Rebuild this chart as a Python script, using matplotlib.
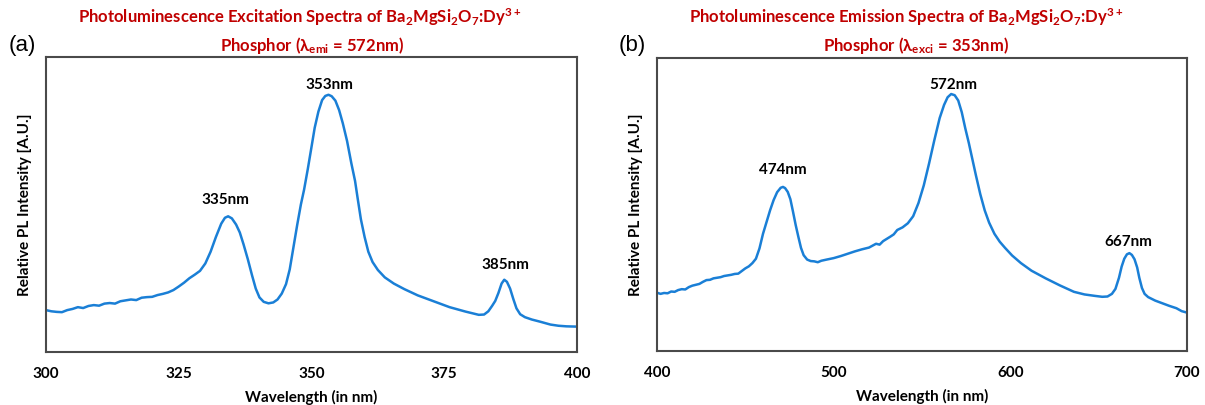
import numpy as np
import matplotlib.pyplot as plt

# (a) excitation spectrum (arbitrary units, 0-100 = axes height)
exc_nm = [300, 301, 302, 303, 304, 305, 306, 307, 308, 309, 310, 311, 312, 313, 314,
          315, 316, 317, 318, 319, 320, 321, 322, 323, 324, 325, 326, 327, 328, 329,
          330, 331, 332, 333, 333.7, 334.3, 335, 335.8, 336.5, 337.2, 338, 338.8, 339.5,
          340.2, 341, 341.9, 342.8, 343.6, 344.4, 345.2, 345.9, 346.6, 347.3, 348, 348.6,
          349.3, 350, 350.6, 351.3, 352, 352.6, 353.2, 353.8, 354.5, 355.2, 355.9, 356.7,
          357.5, 358.2, 358.7, 359.3, 360, 360.7, 361.5, 362.5, 363.8, 365.5, 367.5, 370,
          373, 376, 379, 381.5, 382.5, 383.3, 384, 384.6, 385.2, 385.8, 386.3, 386.8,
          387.4, 388, 388.6, 389.3, 390.2, 391.5, 393, 395, 396.5, 398, 400]
exc_int = [14.2, 13.8, 13.6, 13.5, 14.2, 14.6, 15.2, 14.9, 15.6, 15.9, 15.7, 16.4, 16.6, 16.4, 17.2,
           17.5, 17.8, 17.6, 18.4, 18.6, 18.7, 19.3, 19.7, 20.2, 21.0, 22.2, 23.5, 25.0, 26.2, 27.5,
           30.0, 34.0, 39.0, 43.5, 45.5, 46.0, 45.3, 43.2, 40.5, 36.5, 31.5, 26.0, 21.5,
           18.5, 17.0, 16.5, 16.8, 17.8, 19.8, 23.0, 28.0, 35.5, 43.0, 50.0, 55.0,
           62.0, 69.5, 76.0, 81.5, 85.4, 86.8, 87.2, 86.7, 85.2, 82.0, 77.5, 71.5,
           64.0, 58.0, 52.0, 45.0, 39.0, 34.0, 30.5, 27.8, 25.3, 23.2, 21.3, 19.2,
           17.2, 15.2, 13.7, 12.6, 12.7, 13.8, 15.6, 17.3, 20.0, 23.2, 24.5, 23.8,
           21.5, 18.0, 14.8, 12.8, 11.8, 11.0, 10.3, 9.3, 8.9, 8.7, 8.6]
exc_peaks = [333.7, 353.4, 386.6]
exc_peak_y = [51.5, 90.5, 29.5]
exc_labels = ["335nm", "353nm", "385nm"]

# (b) emission spectrum
emi_nm = [400, 402, 404, 406, 408, 410, 412, 414, 416, 418, 420, 422, 424, 426, 428,
          430, 432, 434, 436, 438, 440, 442, 444, 446, 448, 450, 452, 454, 456, 458,
          460, 462, 464, 466, 468, 470, 471.3, 472.5, 474, 475.5, 477, 478.5, 480, 481.5,
          483, 485, 487, 489, 491, 493, 496, 500, 504, 508, 512, 516, 520, 524, 526,
          528, 532, 534, 536, 539, 542, 545, 548, 551, 554, 557, 560, 562.5, 564.5,
          566.5, 568.5, 570.5, 572.5, 574.5, 576.5, 578.5, 580.5, 583, 585.5, 588, 591,
          594, 597, 601, 606, 612, 620, 628, 636, 642, 648, 652, 655, 657.5, 659.5,
          661.5, 663, 664.5, 666, 667.4, 668.8, 670.3, 671.8, 673, 674.5, 676, 678, 682,
          686, 690, 694, 697, 700]
emi_int = [19.9, 19.5, 19.8, 19.7, 20.3, 20.2, 20.8, 21.1, 21.0, 21.8, 22.3, 22.6, 22.9, 23.6, 24.2,
           24.3, 24.8, 25.0, 25.2, 25.6, 25.8, 26.0, 26.3, 26.4, 27.3, 28.2, 28.9, 30.0, 31.5, 35.0,
           40.0, 44.0, 48.0, 51.5, 54.2, 55.7, 56.0, 55.6, 54.3, 51.8, 47.5, 43.0, 39.0, 35.2,
           32.7, 31.2, 30.7, 30.6, 30.3, 30.8, 31.2, 31.7, 32.4, 33.2, 34.0, 34.7, 35.3, 36.6, 36.3,
           37.5, 39.0, 39.8, 41.3, 42.2, 43.6, 46.0, 50.5, 56.5, 64.0, 72.0, 79.5, 84.0, 86.6,
           87.7, 87.3, 85.5, 81.5, 76.0, 71.0, 65.5, 60.0, 53.5, 48.0, 43.8, 40.0,
           37.3, 35.2, 32.6, 30.0, 27.4, 24.8, 22.4, 20.2, 19.3, 18.8, 18.5, 18.6, 19.5, 21.2,
           25.0, 28.8, 31.5, 33.0, 33.4, 32.8, 31.3, 28.5, 25.0, 21.5, 19.5, 18.4, 17.2,
           16.3, 15.4, 14.6, 13.6, 13.1]
emi_peaks = [471.3, 567.8, 667.0]
emi_peak_y = [61.8, 90.8, 37.3]
emi_labels = ["474nm", "572nm", "667nm"]

plt.rcParams['font.family'] = ['Lato', 'DejaVu Sans']
plt.rcParams['mathtext.fontset'] = 'custom'
plt.rcParams['mathtext.bf'] = 'Lato:bold'
plt.rcParams['mathtext.rm'] = 'Lato:bold'
plt.rcParams['mathtext.default'] = 'bf'

fig = plt.figure(figsize=(12.05, 4.05), dpi=100)
ax1 = fig.add_axes([46 / 1205, 53 / 405, 531 / 1205, 295 / 405])
ax2 = fig.add_axes([657 / 1205, 54 / 405, 530 / 1205, 293 / 405])

blue = '#1a7fd6'
red = '#c00000'

panels = [
    (ax1, exc_nm, exc_int, exc_peaks, exc_peak_y, exc_labels, (300, 400), [300, 325, 350, 375, 400]),
    (ax2, emi_nm, emi_int, emi_peaks, emi_peak_y, emi_labels, (400, 700), [400, 500, 600, 700]),
]
for ax, xs, ys, px, py, lab, xl, ticks in panels:
    ax.plot(xs, ys, color=blue, lw=1.8)
    for x, y, t in zip(px, py, lab):
        ax.text(x, y, t, ha='center', va='center', fontsize=11, fontweight='bold')
    ax.set_xlim(*xl)
    ax.set_ylim(0, 100)
    ax.set_xticks(ticks)
    ax.set_yticks([])
    ax.tick_params(axis='x', length=0, pad=11, labelsize=11)
    for lbl in ax.get_xticklabels():
        lbl.set_fontweight('bold')
    for s in ax.spines.values():
        s.set_color('#4a4a4a')
        s.set_linewidth(1.5)
    ax.set_xlabel('Wavelength (in nm)', fontsize=11, fontweight='bold', labelpad=6)
    ax.set_ylabel('Relative PL Intensity [A.U.]', fontsize=11, fontweight='bold', labelpad=10)

fig.text(22 / 1205, 1 - 46 / 405, '(a)', fontsize=16, family='Liberation Sans', ha='center', va='center')
fig.text(632 / 1205, 1 - 46 / 405, '(b)', fontsize=16, family='Liberation Sans', ha='center', va='center')

fig.text(300 / 1205, 1 - 17 / 405, r'Photoluminescence Excitation Spectra of Ba$_2$MgSi$_2$O$_7$:Dy$^{3+}$',
         color=red, fontsize=12, fontweight='bold', ha='center', va='center')
fig.text(312 / 1205, 1 - 45 / 405, r'Phosphor (λ$_{emi}$ = 572nm)',
         color=red, fontsize=12, fontweight='bold', ha='center', va='center')
fig.text(906 / 1205, 1 - 17 / 405, r'Photoluminescence Emission Spectra of Ba$_2$MgSi$_2$O$_7$:Dy$^{3+}$',
         color=red, fontsize=12, fontweight='bold', ha='center', va='center')
fig.text(916 / 1205, 1 - 45 / 405, r'Phosphor (λ$_{exci}$ = 353nm)',
         color=red, fontsize=12, fontweight='bold', ha='center', va='center')

fig.savefig('out.png', dpi=100)
